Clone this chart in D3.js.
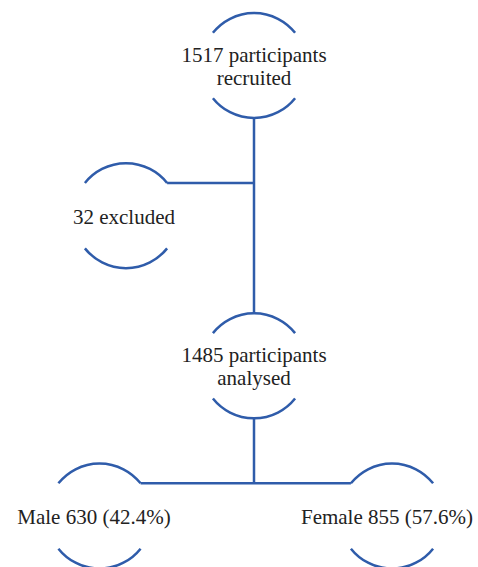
<!DOCTYPE html>
<html>
<head>
<meta charset="utf-8">
<script src="https://cdn.jsdelivr.net/npm/d3@7"></script>
<style>
  html, body { margin: 0; padding: 0; background: #fff; }
</style>
</head>
<body>
<svg id="svg-container"></svg>
<script>
// flow data
const labels = [
    ["1517 participants", "recruited"],
    ["32 excluded"],
    ["1485 participants", "analysed"],
    ["Male 630 (42.4%)"],
    ["Female 855 (57.6%)"]
];
const counts = [1517, 32, 1485, 630, 855];
const levels = [0, 1, 2, 3, 3];
const links = [[0, 2], [0, 1], [2, 3], [2, 4]];

const width = 478;
const height = 567;
const blue = "#2f5caa";
const r = 52.5;
const arcAngle = 51.5 * Math.PI / 180;

const svg = d3.select("#svg-container")
    .attr("width", width)
    .attr("height", height);

const y = d3.scaleLinear().domain([0, 3]).range([65.5, 516]);
// horizontal offset from the trunk for each node
const xOff = [0, -128, 0, -154.5, 138];
const trunk = 254;

const nodes = counts.map((c, i) => ({
    id: i,
    count: c,
    lines: labels[i],
    x: trunk + xOff[i],
    y: y(levels[i])
}));

// arc end points
const topY = d => d.y - r;
const botY = d => d.y + r;
const endY = d => d.y - r * Math.cos(arcAngle);
const endX = (d, side) => d.x + side * r * Math.sin(arcAngle);

// connectors
const lineG = svg.append("g")
    .attr("stroke", blue)
    .attr("stroke-width", 2.5)
    .attr("fill", "none");

const n = nodes;
const segs = [
    // trunk from recruited to analysed
    [[trunk, botY(n[0])], [trunk, topY(n[2])]],
    // branch to excluded
    [[trunk, endY(n[1])], [endX(n[1], 1), endY(n[1])]],
    // analysed down to split
    [[trunk, botY(n[2])], [trunk, endY(n[3])]],
    // split to male / female
    [[endX(n[3], 1), endY(n[3])], [endX(n[4], -1), endY(n[4])]]
];

lineG.selectAll("path.link")
    .data(segs)
    .enter()
    .append("path")
    .attr("class", "link")
    .attr("d", d => d3.line()(d));

// arcs (top and bottom of each circle)
const arcs = [];
nodes.forEach(d => {
    arcs.push({ node: d, start: -arcAngle, end: arcAngle });
    arcs.push({ node: d, start: Math.PI - arcAngle, end: Math.PI + arcAngle });
});

lineG.selectAll("path.arc")
    .data(arcs)
    .enter()
    .append("path")
    .attr("class", "arc")
    .attr("d", a => {
        const p = d3.path();
        // d3.path uses angles from +x axis; convert from "clockwise from top"
        p.arc(a.node.x, a.node.y, r, a.start - Math.PI / 2, a.end - Math.PI / 2);
        return p.toString();
    });

// labels
const textG = svg.selectAll("g.node")
    .data(nodes)
    .enter()
    .append("g")
    .attr("class", "node");

const dxText = [0, -2, 0, -5.5, -5];

textG.append("text")
    .attr("text-anchor", "middle")
    .attr("font-family", "'Liberation Serif', 'Times New Roman', serif")
    .attr("font-size", "21px")
    .attr("fill", "#222")
    .selectAll("tspan")
    .data(d => d.lines.map((t, i) => ({ t, i, n: d.lines.length, d })))
    .enter()
    .append("tspan")
    .attr("x", o => o.d.x + dxText[o.d.id])
    .attr("y", o => o.d.y + 8 + (o.i - (o.n - 1) / 2) * 23)
    .text(o => o.t);
</script>
</body>
</html>
